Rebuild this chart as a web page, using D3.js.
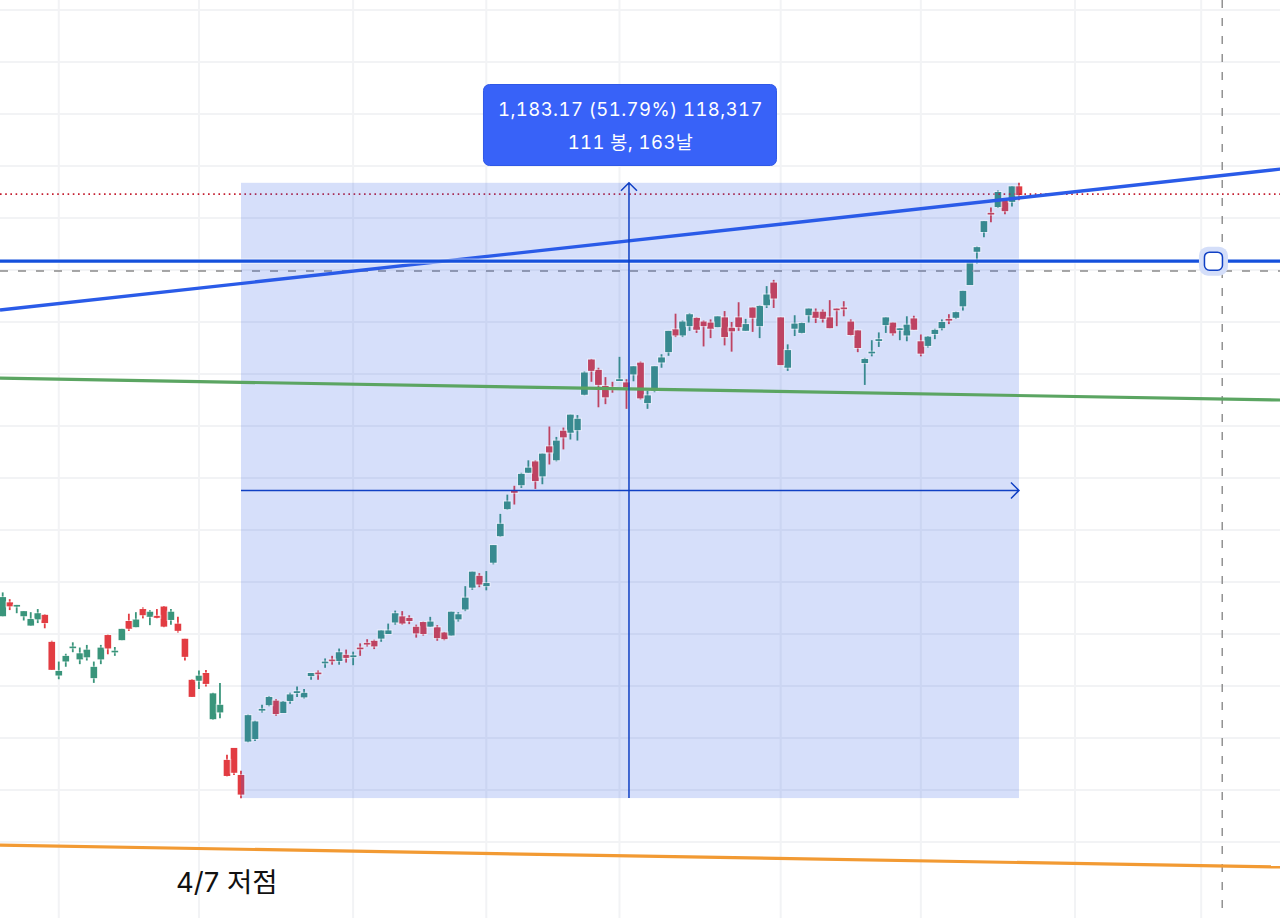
<!DOCTYPE html>
<html>
<head>
<meta charset="utf-8">
<script src="https://cdn.jsdelivr.net/npm/d3@7"></script>
<style>
  html, body { margin: 0; padding: 0; background: #fff; overflow: hidden; }
  svg { display: block; }
  text { font-family: Inter, "Noto Sans CJK KR", sans-serif; }
</style>
</head>
<body>
<svg id="chart" width="1280" height="918"></svg>
<script>
// candle values, one entry per bar
let opens = [
  2634,2661,2654,2634,2616,2628,2637,2585,2520,2547,
  2574,2551,2555,2515,2551,2598,2565,2588,2625,2613,
  2648,2633,2635,2653,2627,2620,2591,2512,2510,2525,
  2436,2449,2358,2381,2329,2393,2398,2454,2463,2472,
  2448,2471,2488,2478,2519,2526,2545,2551,2548,2560,
  2556,2574,2583,2587,2591,2600,2622,2634,2631,2614,
  2623,2614,2613,2603,2597,2628,2647,2689,2712,2692,
  2737,2788,2840,2875,2886,2910,2932,2903,2961,2934,
  2991,2987,2992,3060,3128,3108,3077,3074,3088,3084,
  3099,3122,3044,3068,3122,3142,3186,3174,3192,3208,
  3201,3199,3190,3209,3189,3209,3183,3228,3192,3232,
  3276,3209,3112,3187,3179,3213,3220,3220,3209,3226,
  3228,3201,3184,3121,3140,3165,3194,3199,3186,3174,
  3207,3163,3154,3177,3188,3206,3208,3230,3271,3335,
  3373,3410,3421,3433,3431,3461
]
let closes = [
  2671,2653,2656,2644,2629,2640,2621,2531,2529,2558,
  2576,2563,2570,2537,2574,2572,2568,2610,2610,2628,
  2636,2643,2631,2614,2643,2606,2556,2479,2520,2504,
  2486,2464,2327,2333,2291,2444,2432,2456,2479,2446,
  2470,2484,2490,2487,2525,2524,2547,2549,2565,2554,
  2559,2572,2580,2576,2607,2607,2640,2620,2625,2601,
  2600,2624,2592,2590,2643,2638,2670,2720,2695,2698,
  2771,2812,2855,2872,2908,2920,2894,2947,2949,2972,
  2978,3022,3014,3103,3106,3079,3055,3072,3090,3074,
  3115,3053,3059,3115,3132,3183,3174,3201,3215,3185,
  3192,3187,3211,3171,3182,3190,3196,3208,3231,3253,
  3245,3117,3146,3197,3198,3226,3208,3206,3188,3224,
  3226,3175,3150,3129,3143,3167,3209,3178,3188,3195,
  3185,3139,3172,3185,3200,3203,3219,3260,3315,3344,
  3394,3407,3450,3413,3461,3444
]
let highs = [
  2680,2667,2656,2644,2642,2648,2638,2587,2547,2562,
  2584,2574,2579,2547,2579,2599,2575,2610,2639,2642,
  2651,2646,2648,2654,2648,2633,2591,2513,2530,2531,
  2487,2506,2368,2381,2337,2445,2433,2464,2481,2475,
  2471,2487,2499,2494,2525,2530,2553,2558,2572,2570,
  2566,2582,2590,2589,2607,2620,2645,2644,2636,2618,
  2624,2633,2617,2604,2643,2642,2692,2720,2717,2721,
  2771,2831,2868,2885,2910,2934,2934,2947,2999,2979,
  2997,3022,3021,3105,3129,3112,3094,3085,3133,3090,
  3115,3124,3068,3115,3138,3183,3216,3203,3217,3209,
  3203,3205,3211,3221,3200,3238,3206,3228,3232,3269,
  3281,3209,3157,3213,3199,3226,3226,3224,3242,3226,
  3240,3205,3184,3131,3165,3180,3209,3199,3188,3211,
  3212,3176,3173,3187,3205,3215,3220,3260,3316,3345,
  3394,3420,3453,3434,3461,3468
]
let lows = [
  2634,2646,2640,2626,2616,2621,2611,2531,2513,2537,
  2565,2542,2549,2506,2542,2561,2558,2588,2606,2613,
  2630,2617,2630,2613,2618,2603,2549,2479,2494,2499,
  2435,2438,2326,2329,2284,2392,2394,2449,2461,2443,
  2448,2466,2479,2476,2512,2512,2535,2541,2541,2545,
  2540,2558,2576,2571,2585,2600,2618,2618,2619,2593,
  2597,2614,2587,2588,2597,2624,2644,2685,2690,2684,
  2734,2787,2839,2849,2881,2910,2879,2888,2926,2932,
  2955,2974,2972,3059,3085,3036,3042,3064,3087,3033,
  3086,3051,3033,3065,3112,3135,3171,3171,3183,3179,
  3153,3169,3190,3155,3143,3183,3183,3181,3169,3227,
  3227,3117,3106,3173,3178,3199,3198,3199,3188,3192,
  3211,3174,3142,3079,3134,3152,3179,3174,3165,3163,
  3185,3134,3151,3167,3184,3196,3206,3222,3271,3312,
  3363,3392,3419,3407,3422,3434
]

// grid positions, the chart has its axes cropped away
let priceTicks = [2200,2300,2400,2500,2600,2700,2800,2900,3000,3100,3200,3300,3400,3500,3600,3700,3800]
let barTicks = [8,28,50,69,88,111,131,153,171]

// drawings on top of the candles
let measureBars = [34,145]
let measurePrices = [2284.5,3467.67]
let measureText = ['1,183.17 (51.79%) 118,317','111 봉, 163날']
let blueTrend = [3223,3494]
let greenTrend = [3092,3050]
let orangeTrend = [2194,2152]
let trendBars = [-0.385,182.3]
let blueLevel = 3317
let lastPrice = 3446
let crossPrice = 3298
let crossBar = 174
let handleBar = 172.75
let noteBar = 34
let noteText = '4/7 저점'

let width = 1280
let height = 918

let svg = d3.select('#chart')

let x = d3.scaleLinear().domain([0,183]).range([2.7,1285.3])
let y = d3.scaleLinear().domain([2300,3800]).range([790,10])

let bars = d3.range(opens.length)

// grid
svg.selectAll('.gridH')
  .data(priceTicks)
  .enter()
  .append('line')
  .attr('x1',0).attr('x2',width)
  .attr('y1',d => y(d)).attr('y2',d => y(d))
  .attr('stroke','#f2f3f5').attr('stroke-width',2)

svg.selectAll('.gridV')
  .data(barTicks)
  .enter()
  .append('line')
  .attr('y1',0).attr('y2',height)
  .attr('x1',d => x(d)).attr('x2',d => x(d))
  .attr('stroke','#f2f3f5').attr('stroke-width',2)

// candles
let color = i => closes[i] >= opens[i] ? '#3a957b' : '#e23c42'
let bodyTop = i => y(Math.max(opens[i],closes[i]))
let bodyHeight = i => Math.max(1.8,Math.abs(y(opens[i]) - y(closes[i])))

let candles = svg.append('g')

candles.selectAll('.wick')
  .data(bars)
  .enter()
  .append('line')
  .attr('x1',i => x(i)).attr('x2',i => x(i))
  .attr('y1',i => y(highs[i])).attr('y2',i => y(lows[i]))
  .attr('stroke',color).attr('stroke-width',1.8)

candles.selectAll('.body')
  .data(bars)
  .enter()
  .append('rect')
  .attr('x',i => x(i) - 3.4)
  .attr('width',6.8)
  .attr('y',bodyTop)
  .attr('height',bodyHeight)
  .attr('fill',color)

// last price and crosshair
svg.append('line')
  .attr('x1',0).attr('x2',width)
  .attr('y1',y(lastPrice)).attr('y2',y(lastPrice))
  .attr('stroke','#c41e30').attr('stroke-width',1.6).attr('stroke-dasharray','1.6 3.6')

svg.append('line')
  .attr('x1',0).attr('x2',width)
  .attr('y1',y(crossPrice)).attr('y2',y(crossPrice))
  .attr('stroke','#8a8a8a').attr('stroke-width',1.4).attr('stroke-dasharray','8 10')

svg.append('line')
  .attr('x1',x(crossBar)).attr('x2',x(crossBar))
  .attr('y1',0).attr('y2',height)
  .attr('stroke','#8a8a8a').attr('stroke-width',1.4).attr('stroke-dasharray','8 10')

// measure box
let mx0 = x(measureBars[0])
let mx1 = x(measureBars[1])
let my0 = y(measurePrices[0])
let my1 = y(measurePrices[1])
let mxMid = (mx0 + mx1) / 2 - 1
let myMid = (my0 + my1) / 2

svg.append('rect')
  .attr('x',mx0).attr('y',my1)
  .attr('width',mx1 - mx0).attr('height',my0 - my1)
  .attr('fill','#325fe6').attr('fill-opacity',0.2)

// pale outline the candles carry over the shaded box
svg.append('g').selectAll('rect')
  .data(bars)
  .enter()
  .append('rect')
  .attr('x',i => x(i) - 3.9)
  .attr('width',7.8)
  .attr('y',i => bodyTop(i) - 0.5)
  .attr('height',i => bodyHeight(i) + 1)
  .attr('fill','none')
  .attr('stroke','#fff').attr('stroke-opacity',0.45).attr('stroke-width',1)

// trend lines
let trend = (vals,col,w) => {
  svg.append('line')
    .attr('x1',x(trendBars[0])).attr('x2',x(trendBars[1]))
    .attr('y1',y(vals[0])).attr('y2',y(vals[1]))
    .attr('stroke',col).attr('stroke-width',w)
}
trend(orangeTrend,'#f29a33',3.2)
trend(greenTrend,'#5ba562',3.2)
trend(blueTrend,'#2a5be8',3.4)

svg.append('line')
  .attr('x1',0).attr('x2',width)
  .attr('y1',y(blueLevel)).attr('y2',y(blueLevel))
  .attr('stroke','#fff').attr('stroke-opacity',0.6).attr('stroke-width',5.4)

svg.append('line')
  .attr('x1',0).attr('x2',width)
  .attr('y1',y(blueLevel)).attr('y2',y(blueLevel))
  .attr('stroke','#1550dc').attr('stroke-width',3.4)

// measure arrows
let arrow = d3.line()
let arrowCol = '#1040c4'

svg.append('path')
  .attr('d',arrow([[mxMid,my0],[mxMid,my1]]) + arrow([[mxMid - 8,my1 + 8],[mxMid,my1],[mxMid + 8,my1 + 8]]))
  .attr('fill','none').attr('stroke',arrowCol).attr('stroke-width',1.5)

svg.append('path')
  .attr('d',arrow([[mx0,myMid],[mx1,myMid]]) + arrow([[mx1 - 8,myMid - 8],[mx1,myMid],[mx1 - 8,myMid + 8]]))
  .attr('fill','none').attr('stroke',arrowCol).attr('stroke-width',1.5)

// label above the box
svg.append('rect')
  .attr('x',mxMid - 145.5).attr('y',84.5)
  .attr('width',293).attr('height',81).attr('rx',6)
  .attr('fill','#3862f8').attr('stroke','#2f58e6').attr('stroke-width',1)

svg.selectAll('.measureText')
  .data(measureText)
  .enter()
  .append('text')
  .attr('x',mxMid + 1.5)
  .attr('y',(d,i) => 115.5 + i * 33)
  .attr('text-anchor','middle')
  .attr('font-size',18.5)
  .attr('letter-spacing',0.42)
  .style('font-variant-numeric','tabular-nums')
  .attr('fill','#fff')
  .text(d => d)

// selected line handle
let hx = x(handleBar)
let hy = y(blueLevel)
svg.append('rect')
  .attr('x',hx - 14.5).attr('y',hy - 14.5).attr('width',29).attr('height',29).attr('rx',9)
  .attr('fill','#d4def9')
svg.append('rect')
  .attr('x',hx - 9).attr('y',hy - 9).attr('width',18).attr('height',18).attr('rx',5)
  .attr('fill','#fff').attr('stroke','#1040c4').attr('stroke-width',1.5)

// note under the low
svg.append('text')
  .attr('x',x(noteBar) - 65)
  .attr('y',891.5)
  .attr('font-size',27.5)
  .attr('fill','#111')
  .text(noteText)
</script>
</body>
</html>
